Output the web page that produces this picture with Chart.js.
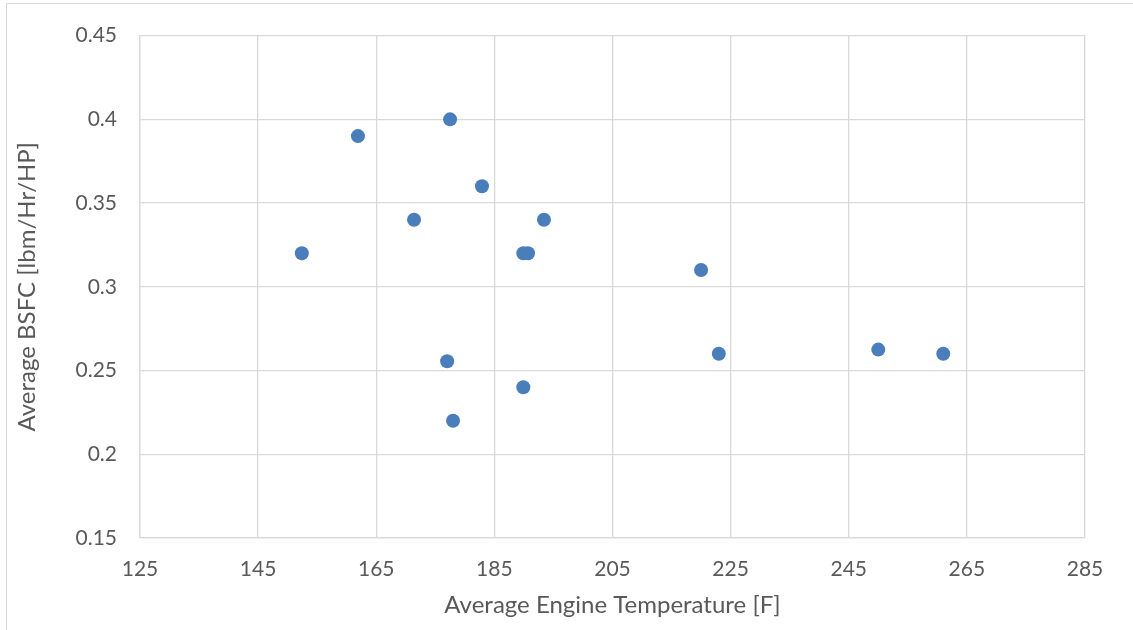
<!DOCTYPE html>
<html>
<head>
<meta charset="utf-8">
<script src="https://cdn.jsdelivr.net/npm/chart.js@4/dist/chart.umd.min.js"></script>
<style>
  html, body { margin: 0; padding: 0; background: #ffffff; }
  #wrap { position: relative; width: 1133px; height: 630px; }
  #frame { position: absolute; left: 6px; top: 3px; right: -2px; bottom: -2px; border-left: 1px solid #d9d9d9; border-top: 1px solid #d9d9d9; pointer-events: none; }
  canvas { position: absolute; left: 0; top: 0; }
</style>
</head>
<body>
<div id="wrap">
  <canvas id="c" width="1133" height="630"></canvas>
  <div id="frame"></div>
</div>
<script>
const temperatures = [152.4, 161.9, 177.5, 182.9, 171.4, 193.4, 189.9, 190.7, 220.0, 177.0, 189.9, 178.0, 223.0, 250.0, 261.0];
const bsfc        = [0.32, 0.39, 0.40, 0.36, 0.34, 0.34, 0.32, 0.32, 0.31, 0.2555, 0.24, 0.22, 0.26, 0.2625, 0.26];
const xTicks = [125, 145, 165, 185, 205, 225, 245, 265, 285];
const yTicks = [0.15, 0.2, 0.25, 0.3, 0.35, 0.4, 0.45];
const xTitle = 'Average Engine Temperature [F]';
const yTitle = 'Average BSFC [lbm/Hr/HP]';

const points = temperatures.map((t, i) => ({ x: t, y: bsfc[i] }));
const FONT = "Lato, 'Open Sans', sans-serif";
const TXT = '#595959';
const GRID = '#d9d9d9';

new Chart(document.getElementById('c'), {
  type: 'scatter',
  data: {
    datasets: [{
      data: points,
      backgroundColor: '#4a7ebb',
      borderColor: '#4a7ebb',
      pointRadius: 7,
      pointHoverRadius: 7,
      borderWidth: 0
    }]
  },
  options: {
    responsive: false,
    animation: false,
    devicePixelRatio: 1,
    layout: { padding: { left: 0, top: 35, right: 48, bottom: 0 } },
    plugins: { legend: { display: false }, tooltip: { enabled: false } },
    scales: {
      x: {
        type: 'linear',
        min: xTicks[0],
        max: xTicks[xTicks.length - 1],
        afterBuildTicks: (axis) => { axis.ticks = xTicks.map(v => ({ value: v })); },
        afterFit: (axis) => { axis.height = 92; },
        grid: { color: GRID, lineWidth: 1.3, drawTicks: false },
        border: { color: GRID, width: 1.3 },
        ticks: { color: TXT, font: { family: FONT, size: 21 }, padding: 19, maxRotation: 0, callback: (v) => String(v) },
        title: { display: true, text: xTitle, color: TXT, font: { family: FONT, size: 24 }, padding: { top: 0, bottom: 10 } }
      },
      y: {
        type: 'linear',
        min: yTicks[0],
        max: yTicks[yTicks.length - 1],
        afterBuildTicks: (axis) => { axis.ticks = yTicks.map(v => ({ value: v })); },
        afterFit: (axis) => { axis.width = 140; },
        grid: { color: GRID, lineWidth: 1.3, drawTicks: false },
        border: { color: GRID, width: 1.3 },
        ticks: { color: TXT, font: { family: FONT, size: 21 }, padding: 23, callback: (v) => String(Number(v.toFixed(2))) },
        title: { display: true, text: yTitle, color: TXT, font: { family: FONT, size: 24 }, padding: { top: 13, bottom: 0 } }
      }
    }
  }
});
</script>
</body>
</html>
